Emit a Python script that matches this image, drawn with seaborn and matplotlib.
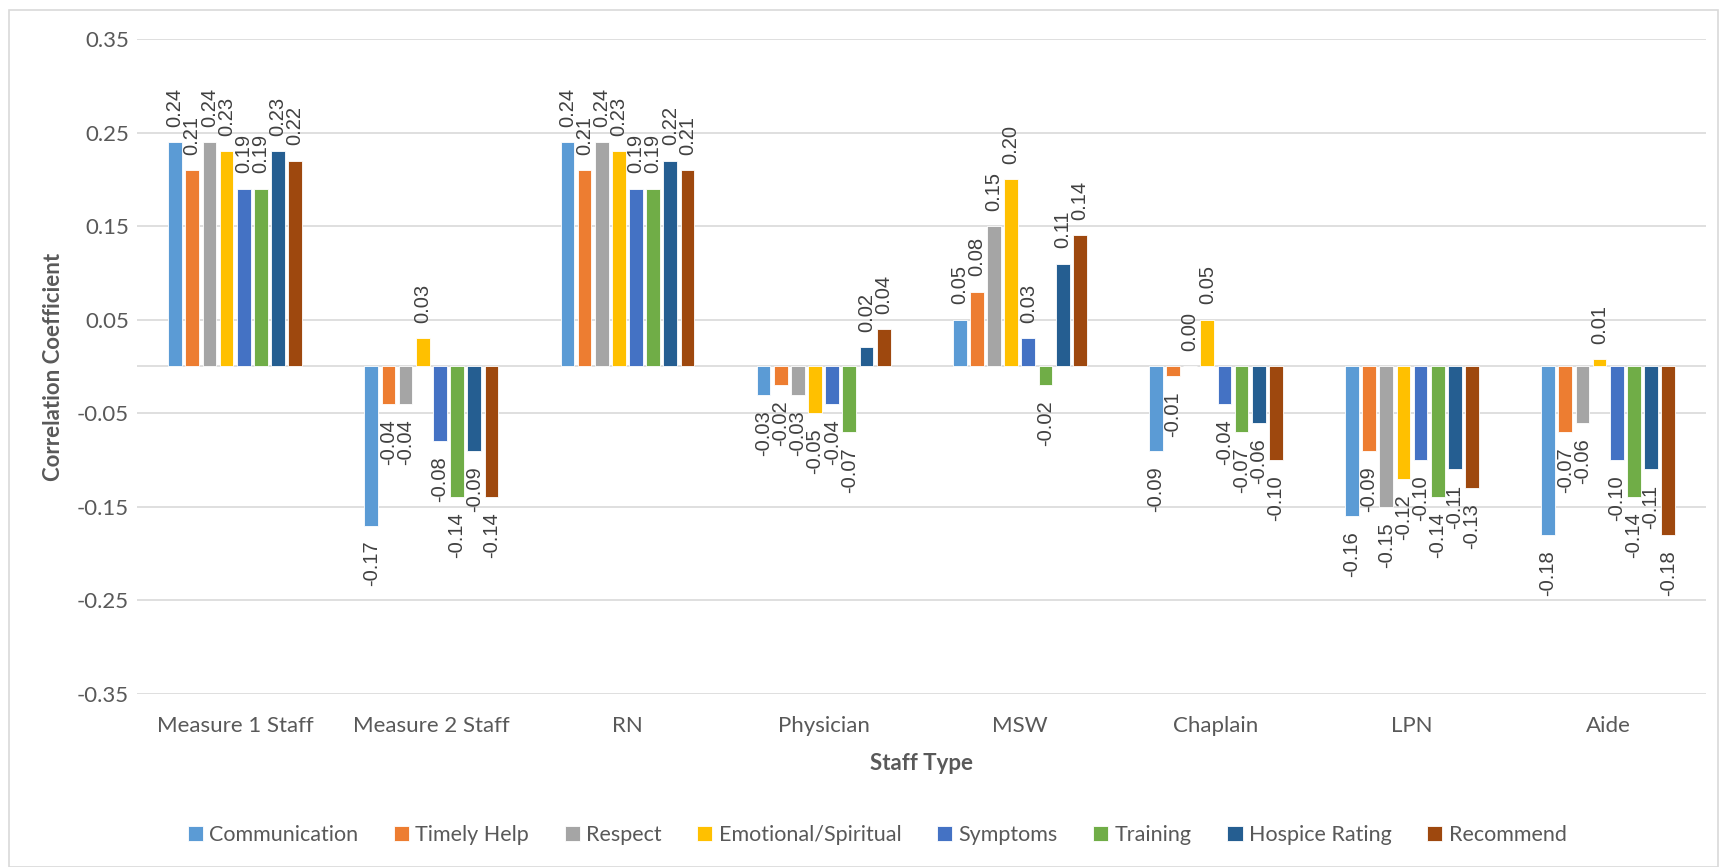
import numpy as np
import pandas as pd
import matplotlib
matplotlib.use("Agg")
import matplotlib.pyplot as plt
import seaborn as sns
from matplotlib.patches import Rectangle

staff_types = ['Measure 1 Staff', 'Measure 2 Staff', 'RN', 'Physician', 'MSW', 'Chaplain', 'LPN', 'Aide']
measures = ['Communication', 'Timely Help', 'Respect', 'Emotional/Spiritual',
            'Symptoms', 'Training', 'Hospice Rating', 'Recommend']

# one list per measure, in the order of staff_types
communication = [0.24, -0.17, 0.24, -0.03, 0.05, -0.09, -0.16, -0.18]
timely_help = [0.21, -0.04, 0.21, -0.02, 0.08, -0.01, -0.09, -0.07]
respect = [0.24, -0.04, 0.24, -0.03, 0.15, 0.00, -0.15, -0.06]
emotional = [0.23, 0.03, 0.23, -0.05, 0.20, 0.05, -0.12, 0.008]
symptoms = [0.19, -0.08, 0.19, -0.04, 0.03, -0.04, -0.10, -0.10]
training = [0.19, -0.14, 0.19, -0.07, -0.02, -0.07, -0.14, -0.14]
hospice_rating = [0.23, -0.09, 0.22, 0.021, 0.11, -0.06, -0.11, -0.11]
recommend = [0.22, -0.14, 0.21, 0.04, 0.14, -0.10, -0.13, -0.18]

series = [communication, timely_help, respect, emotional,
          symptoms, training, hospice_rating, recommend]

colors = ['#5B9BD5', '#ED7D31', '#A5A5A5', '#FFC000',
          '#4472C4', '#70AD47', '#255E91', '#9E480E']

rows = []
for m, vals in zip(measures, series):
    for s, v in zip(staff_types, vals):
        rows.append({'Staff Type': s, 'Measure': m, 'Value': v})
df = pd.DataFrame(rows)

sns.set_style("white")
txt = '#595959'
plt.rcParams['font.family'] = ['Lato', 'DejaVu Sans']

fig = plt.figure(figsize=(17.2, 8.67), dpi=100)
ax = fig.add_axes([0.0797, 0.1996, 0.9123, 0.7554])

sns.barplot(data=df, x='Staff Type', y='Value', hue='Measure', order=staff_types,
            hue_order=measures, palette=colors, saturation=1, width=0.7, gap=0.2,
            edgecolor='white', linewidth=0.6, errorbar=None, ax=ax, legend=True)

for cont in ax.containers:
    ax.bar_label(cont, fmt='%.2f', rotation=90, padding=11, fontsize=14.5,
                 color='#404040', family='Liberation Sans')

ax.set_ylim(-0.35, 0.35)
ax.set_yticks(np.arange(-0.35, 0.36, 0.1))
ax.set_yticklabels([f'{t:.2f}' for t in np.arange(-0.35, 0.36, 0.1)])
ax.set_xlim(-0.5, len(staff_types) - 0.5)
ax.yaxis.grid(True, color='#D9D9D9', linewidth=1.2)
ax.set_axisbelow(True)
ax.axhline(0, color='#D9D9D9', linewidth=1.2, zorder=0)
for sp in ax.spines.values():
    sp.set_visible(False)

ax.tick_params(axis='y', labelsize=16, colors=txt, length=0, pad=6)
ax.tick_params(axis='x', labelsize=16, colors=txt, length=0, pad=16)
ax.set_xlabel('Staff Type', fontsize=16, fontweight='bold', color=txt, labelpad=12)
ax.set_ylabel('Correlation Coefficient', fontsize=16, fontweight='bold', color=txt, labelpad=9)

ax.legend(loc='center', bbox_to_anchor=(0.51, 0.037), bbox_transform=fig.transFigure,
          ncol=8, frameon=False, fontsize=15.5, labelcolor=txt, handlelength=0.7,
          handleheight=0.7, handletextpad=0.3, columnspacing=1.65)

fig.patches.append(Rectangle((9 / 1720, 0.0), 1 - 9 / 1720 - 0.001, 1 - 10 / 867,
                             transform=fig.transFigure, fill=False,
                             edgecolor='#D9D9D9', linewidth=1.2))

fig.savefig('out.png', dpi=100)
